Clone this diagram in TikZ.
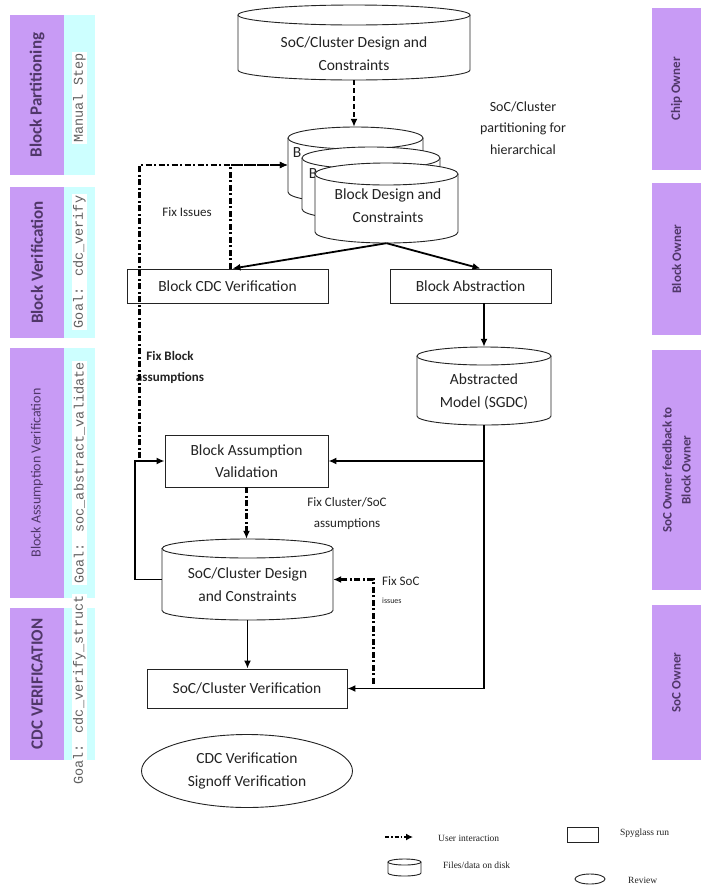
\documentclass[tikz,border=0pt]{standalone}
\usepackage{fontspec}
\setmainfont{Carlito}
\newfontfamily\codefont{Liberation Mono}
\newfontfamily\legendfont{Liberation Serif}
\usetikzlibrary{arrows.meta,shapes.geometric,calc}

\definecolor{lanefill}{RGB}{200,155,245}
\definecolor{goalfill}{RGB}{205,255,255}
\definecolor{lanetext}{RGB}{80,55,105}
\definecolor{goalink}{RGB}{95,95,95}
\definecolor{ink}{RGB}{35,35,35}

\newcommand\mainsize{\fontsize{15.5}{22.5}\selectfont}
\newcommand\notesize{\fontsize{13}{21}\selectfont}

% storage cylinder: name, left, right, top, bottom, ellipse y radius
\newcommand\drawdisk[6]{%
  \path[disk] (#2,#4+#6) -- (#2,#5-#6)
    arc[start angle=180,end angle=0,x radius={(#3-#2)/2},y radius=#6] -- (#3,#4+#6);
  \path[disk] ({(#2+#3)/2},#4+#6) ellipse[x radius={(#3-#2)/2},y radius=#6];
  \node[inner sep=0pt,minimum width={(#3-#2)*1pt},minimum height={(#5-#4)*1pt}]
    (#1) at ({(#2+#3)/2},{(#4+#5)/2}) {};
}

\begin{document}
\begin{tikzpicture}[x=1pt,y=-1pt,
  lane/.style={rotate=90, fill=lanefill, inner sep=0pt, text=lanetext, align=center},
  lanebold/.style={lane, font=\bfseries\fontsize{17}{20}\selectfont},
  laneowner/.style={lane, font=\bfseries\fontsize{13}{19}\selectfont},
  goalbar/.style={rotate=90, fill=goalfill, inner sep=0pt},
  goaltext/.style={rotate=90, fill=white, inner sep=1.5pt, text=goalink,
    font=\codefont\fontsize{13.5}{15}\selectfont},
  stepbox/.style={draw=ink, line width=0.9pt, fill=white, inner sep=0pt, text=ink,
    align=center, font=\mainsize},
  disk/.style={draw=ink, line width=0.9pt, fill=white},
  disktext/.style={align=center, text=ink, font=\mainsize, inner sep=0pt},
  flow/.style={draw=black, line width=1.8pt, -{Latex[length=8pt,width=7pt]}},
  interact/.style={draw=black, line width=2.2pt,
    dash pattern=on 6pt off 2.5pt on 2pt off 2.5pt, -{Latex[length=8pt,width=7pt]}},
  handoff/.style={draw=black, line width=2.6pt, dash pattern=on 5pt off 3pt,
    -{Latex[length=8pt,width=7pt]}},
  note/.style={text=ink, align=center, font=\notesize, inner sep=0pt},
  legendtext/.style={anchor=west, text=ink, font=\legendfont\fontsize{9.5}{11}\selectfont,
    inner sep=0pt}]

\path[use as bounding box, fill=white] (0,0) rectangle (701,895);

% ---------- phase lanes (left) ----------
\node[lanebold, minimum width=160pt, minimum height=54pt] (phase1) at (37,95) {Block Partitioning};
\node[lanebold, minimum width=151pt, minimum height=54pt] (phase2) at (37,262.5) {Block Verification};
\node[lane, font=\fontsize{14}{16}\selectfont, minimum width=250pt, minimum height=54pt] (phase3) at (37,473) {Block Assumption Verification};
\node[lanebold, minimum width=152pt, minimum height=54pt] (phase4) at (37,684) {CDC VERIFICATION};

\node[goalbar, minimum width=160pt, minimum height=31pt] (goal1) at (79.5,95) {};
\node[goalbar, minimum width=151pt, minimum height=31pt] (goal2) at (79.5,262.5) {};
\node[goalbar, minimum width=250pt, minimum height=31pt] (goal3) at (79.5,473) {};
\node[goalbar, minimum width=152pt, minimum height=31pt] (goal4) at (79.5,684) {};

\node[goaltext] (goalt1) at (79.5,98) {Manual Step};
\node[goaltext] (goalt2) at (79.5,262) {Goal: cdc\_verify};
\node[goaltext] (goalt3) at (79.5,473) {Goal: soc\_abstract\_validate};
\node[goaltext] (goalt4) at (79.5,690) {Goal: cdc\_verify\_struct};

% ---------- owner lanes (right) ----------
\node[laneowner, minimum width=162pt, minimum height=49pt] (own1) at (676.5,89) {Chip Owner};
\node[laneowner, minimum width=152pt, minimum height=49pt] (own2) at (676.5,259) {Block Owner};
\node[laneowner, minimum width=240pt, minimum height=49pt] (own3) at (676.5,470) {SoC Owner feedback to\\Block Owner};
\node[laneowner, minimum width=155pt, minimum height=49pt] (own4) at (676.5,682.5) {SoC Owner};

% ---------- design data ----------
\drawdisk{top}{238}{470}{5}{80}{10}
\node[disktext] (topt) at (354,53.5) {SoC/Cluster Design and\\Constraints};

% stacked block databases: only the first letter of the rear ones shows
\drawdisk{stackA}{288}{423}{127}{203}{11}
\node[disktext] (stackAt) at (297,153) {B};
\drawdisk{stackB}{302}{440}{147}{220}{11}
\node[disktext] (stackBt) at (313,174) {B};
\drawdisk{stackC}{315}{458}{163}{243}{11}
\node[disktext] (stackCt) at (388,205.5) {Block Design and\\Constraints};

\node[note, font=\fontsize{14}{21.5}\selectfont] (partnote) at (523,128) {SoC/Cluster\\partitioning for\\hierarchical};

% ---------- block level ----------
\node[stepbox, minimum width=201pt, minimum height=34pt] (cdc) at (227.5,286) {Block CDC Verification};
\node[stepbox, minimum width=161pt, minimum height=34pt] (abs) at (470.5,286) {Block Abstraction};

\drawdisk{model}{417}{551}{347}{425}{9}
\node[disktext] (modelt) at (484,391.5) {Abstracted\\Model (SGDC)};

\node[stepbox, minimum width=163pt, minimum height=52pt] (bav) at (246.5,461) {Block Assumption\\Validation};

\drawdisk{lc}{162}{333}{539}{620}{9.5}
\node[disktext] (lct) at (247.5,584.5) {SoC/Cluster Design\\and Constraints};

\node[stepbox, minimum width=200pt, minimum height=39pt] (scv) at (247,688.5) {SoC/Cluster Verification};

\node[ellipse, draw=ink, line width=0.9pt, fill=white, inner sep=0pt, minimum width=211pt,
  minimum height=73pt, align=center, text=ink, font=\mainsize] (signoff) at (247,771)
  {CDC Verification\\Signoff Verification};

% ---------- labels ----------
\node[note] (fixissues) at (187,212) {Fix Issues};
\node[note, font=\bfseries\fontsize{13}{21}\selectfont] (fixblock) at (170,367) {Fix Block\\assumptions};
\node[note] (fixcluster) at (347,514) {Fix Cluster/SoC\\assumptions};
\node[note, anchor=west] (fixsoc) at (382,581) {Fix SoC};
\node[note, anchor=west, font=\fontsize{8}{9}\selectfont] (fixsocb) at (382,601) {issues};

% ---------- connectors ----------
\draw[handoff] (top.south) -- (top.south |- stackA.north);
\draw[flow] (stackC.south) -- ($(cdc.north)+(5,0)$);
\draw[flow] (stackC.south) -- ($(abs.north)+(10,0)$);
\draw[flow] (abs.south -| model.north) -- (model.north);
\draw[flow] (model.south) |- (bav.east);
\draw[flow] (model.south) |- (scv.east);
\draw[interact] (bav.south) -- (bav.south |- lc.north);
\draw[flow] (lc.south) -- (lc.south |- scv.north);
\draw[flow] (lc.west) -- ++(-27,0) |- (bav.west);
\draw[interact] ($(scv.east)+(26,-5)$) |- (lc.east);
\draw[interact] ($(cdc.north)+(3,0)$) |- (stackA.west);
\draw[interact] ($(bav.west)+(-25,-3)$) |- (stackA.west);

% ---------- legend ----------
\coordinate (legA) at (385,837);
\coordinate (legB) at (413,837);
\draw[draw=black, line width=1.5pt, dash pattern=on 4pt off 2pt on 1.5pt off 2pt,
  -{Latex[length=7pt,width=7pt]}] (legA) -- (legB);
\node[legendtext] (legUI) at (438,838) {User interaction};
\node[draw=ink, line width=0.9pt, minimum width=31pt, minimum height=15pt, inner sep=0pt] (legBox) at (582.5,834.5) {};
\node[legendtext] (legRun) at (620,833) {Spyglass run};
\drawdisk{legDisk}{388}{421}{859}{876}{3}
\node[legendtext] (legFiles) at (443,865) {Files/data on disk};
\node[draw=ink, ellipse, line width=0.9pt, minimum width=30pt, minimum height=10pt, inner sep=0pt] (legEll) at (590,879) {};
\node[legendtext] (legRev) at (628,880) {Review};

\end{tikzpicture}
\end{document}
